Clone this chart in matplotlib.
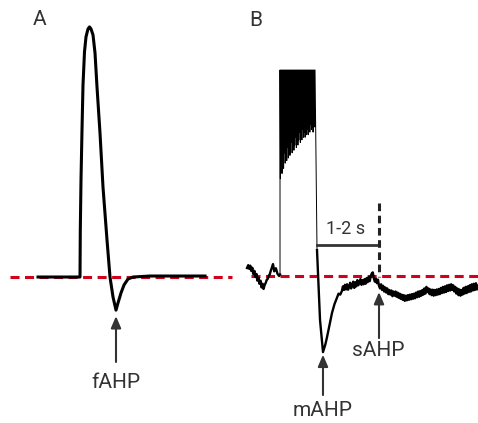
import numpy as np
import matplotlib.pyplot as plt

plt.rcParams['font.family'] = ['Roboto', 'DejaVu Sans']

# ---- panel A: single action potential (time in ms, voltage in mV) ----
ap_t = [2.8, 7.0, 7.03, 7.1, 7.2, 7.3, 7.45, 7.6, 7.8, 7.95, 8.1, 8.3, 8.5, 8.7,
        9.0, 9.3, 9.7, 10.0, 10.3, 10.6, 10.8, 11.1, 11.4, 11.8, 12.3, 14.0, 19.5]
ap_v = [-65.0, -65.0, -46.1, -26.0, -6.0, 12.1, 25.4, 31.4, 34.6, 35.4, 34.6, 32.2, 25.0, 11.3,
        -7.2, -28.9, -50.1, -65.0, -73.0, -78.3, -75.4, -71.4, -68.2, -65.8, -65.0, -64.6, -64.6]
rest_a = -65.0
fahp_t, fahp_v = 10.6, -78.3

# ---- panel B: spike train and afterhyperpolarisation (time in s, voltage in mV) ----
pre_t = [0.00, 0.03, 0.05, 0.08, 0.10, 0.13, 0.15, 0.18, 0.20, 0.23, 0.25, 0.28, 0.30,
         0.33, 0.35, 0.38, 0.40, 0.43, 0.45, 0.48, 0.50, 0.53, 0.55, 0.58, 0.60, 0.63,
         0.66, 0.70, 0.74, 0.78, 0.80]
pre_v = [-56.5, -55.4, -56.8, -55.6, -57.6, -56.4, -58.8, -57.6, -60.0, -58.8, -61.4, -60.2,
         -62.6, -61.4, -64.0, -62.6, -64.6, -63.0, -62.4, -61.0, -60.8, -59.4, -59.0, -57.4,
         -56.5, -55.0, -57.8, -56.6, -58.8, -59.6, -59.0]

burst_start = 0.80
burst_isi = 0.0193
burst_peak = 20.0
burst_troughs = [-22, -15, -20, -13, -18, -12, -16, -11, -15, -10, -14, -9, -13, -12, -8,
                 -12, -7, -11, -9, -6, -10, -5, -9, -7, -4, -8, -5, -7, -3, -6, -4, -6,
                 -2, -5, -3, -5, -2, -4, -1, -3, -2, -4, -1, -2]

# fall into the mAHP and early recovery
post_t = [1.697, 1.77, 1.842, 1.90, 1.94, 2.00, 2.06, 2.12, 2.18, 2.22, 2.26]
post_v = [-49.6, -76.6, -89.0, -86.0, -83.2, -78.5, -73.9, -70.5, -68.1, -66.4, -66.8]

# slow recovery, sampled every 25 ms from 2.30 s
noise_start = 2.30
noise_dt = 0.025
noise_v = [-65.4, -63.6, -65.0, -63.0, -64.8, -62.8, -64.9, -63.8, -62.2, -64.4, -63.0, -61.8,
           -64.2, -62.0, -63.6, -61.2, -63.2, -62.0, -60.8, -63.0, -61.2, -62.8, -60.8, -62.6,
           -60.4, -62.0, -60.0, -61.6, -59.6, -58.6, -58.2, -60.6, -61.8, -60.6, -62.4, -61.0,
           -63.4, -64.4, -62.8, -65.0, -63.4, -65.6, -64.0, -66.0, -64.4, -66.6, -65.0, -66.8,
           -65.2, -67.4, -65.6, -67.2, -65.6, -67.6, -66.0, -68.0, -66.4, -68.4, -66.8, -68.8,
           -67.0, -69.2, -67.2, -69.0, -67.0, -68.8, -66.8, -68.6, -66.6, -68.4, -66.4, -68.2,
           -66.0, -67.8, -65.6, -67.6, -65.4, -67.2, -65.0, -66.8, -64.4, -66.4, -63.8, -65.8,
           -64.4, -66.6, -64.8, -67.0, -64.9, -67.2, -65.0, -67.0, -64.8, -66.8, -64.6, -66.6,
           -64.2, -66.2, -63.8, -66.0, -63.6, -65.8, -63.2, -65.4, -63.0, -65.2, -62.8, -65.0,
           -63.2, -65.6, -63.8, -66.4, -64.4, -67.0, -64.8, -67.2, -65.0, -66.8, -64.2, -66.4,
           -63.8, -66.2, -63.6, -65.8, -63.2, -65.6, -62.8, -65.2, -62.6, -65.0, -62.4, -64.8,
           -63.4]

rest_b = -59.6
mahp_t, mahp_v = 1.842, -89.0
sahp_t = 3.2
scale_bar = (1.70, 3.2)

RED = '#d0021b'
INK = '#333333'

fig = plt.figure(figsize=(4.78, 4.23), dpi=100)

# panel A axes: left 240 px of the figure
axA = fig.add_axes([0, 0, 240 / 478, 1])
axA.set_xlim(-1.0, 23.0)
axA.set_ylim(-123.6, 46.2)
axA.axis('off')
axA.plot([0, 22.2], [rest_a, rest_a], color=RED, lw=2.2, dashes=(2.95, 1.8), zorder=1)
axA.plot(ap_t, ap_v, color='black', lw=2.2, solid_joinstyle='round', zorder=2)
axA.annotate('', xy=(fahp_t, fahp_v - 2.4), xytext=(fahp_t, -99.1),
             arrowprops=dict(arrowstyle='-|>,head_length=0.7,head_width=0.3',
                             lw=1.5, color=INK, shrinkA=0, shrinkB=0))
axA.text(fahp_t, -107.5, 'fAHP', ha='center', va='center', fontsize=15, color=INK)
axA.text(3.0, 38.2, 'A', ha='center', va='center', fontsize=15, color=INK)

# panel B axes: right 238 px
axB = fig.add_axes([240 / 478, 0, 238 / 478, 1])
axB.set_xlim(-0.17, 5.6)
axB.set_ylim(-116.4, 47.05)
axB.axis('off')

# build the burst from the listed trough values
bt = []
bv = []
for i, tr in enumerate(burst_troughs):
    t0 = burst_start + i * burst_isi
    bt += [t0, t0 + burst_isi / 2]
    bv += [burst_peak, tr]
bt.append(burst_start + len(burst_troughs) * burst_isi)
bv.append(burst_peak)

noise_t = noise_start + noise_dt * np.arange(len(noise_v))
rec_t = post_t + list(noise_t)
rec_v = post_v + noise_v

axB.plot([0.1, 5.6], [rest_b, rest_b], color=RED, lw=2.2, dashes=(2.95, 1.8), zorder=1)
axB.plot(pre_t, pre_v, color='black', lw=1.7, zorder=2)
axB.plot([pre_t[-1]] + bt + [post_t[0]], [pre_v[-1]] + bv + [post_v[0]],
         color='black', lw=0.7, zorder=2)
axB.plot(rec_t, rec_v, color='black', lw=1.7, zorder=2)

# scale bar and dotted marker
axB.plot([scale_bar[0], scale_bar[1]], [-47.6, -47.6], color=INK, lw=2.0)
axB.plot([sahp_t, sahp_t], [-31.4, -60.0], color='#222222', lw=2.2, dashes=(2.5, 1.5))
axB.text(sum(scale_bar) / 2 - 0.07, -41.5, '1-2 s', ha='center', va='center',
         fontsize=13, color=INK)

axB.annotate('', xy=(mahp_t, mahp_v - 1.0), xytext=(mahp_t, -105.6),
             arrowprops=dict(arrowstyle='-|>,head_length=0.7,head_width=0.3',
                             lw=1.5, color=INK, shrinkA=0, shrinkB=0))
axB.text(mahp_t, -111.6, 'mAHP', ha='center', va='center', fontsize=15, color=INK)
axB.annotate('', xy=(sahp_t, -65.8), xytext=(sahp_t, -83.6),
             arrowprops=dict(arrowstyle='-|>,head_length=0.7,head_width=0.3',
                             lw=1.5, color=INK, shrinkA=0, shrinkB=0))
axB.text(sahp_t - 0.03, -88.5, 'sAHP', ha='center', va='center', fontsize=15, color=INK)
axB.text(0.22, 39.3, 'B', ha='center', va='center', fontsize=15, color=INK)

fig.savefig('out.png', dpi=100, facecolor='white')
